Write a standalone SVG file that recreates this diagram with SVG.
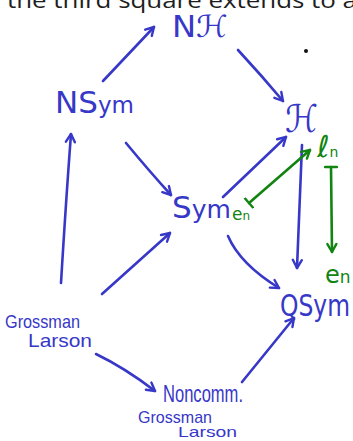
<svg xmlns="http://www.w3.org/2000/svg" width="353" height="441" viewBox="0 0 353 441">
  <style>
    .ink { fill: #3737c8; font-family: "DejaVu Sans", "Noto Sans", sans-serif; }
    .hand { fill: #3737c8; font-family: "Liberation Sans", "Noto Sans", sans-serif; }
    .grn { fill: #128412; font-family: "DejaVu Sans", "Noto Sans", sans-serif; }
    .edge { fill: none; stroke: #3737c8; stroke-width: 2.6; stroke-linecap: round; stroke-linejoin: round; }
    .gedge { fill: none; stroke: #128412; stroke-width: 2.6; stroke-linecap: round; stroke-linejoin: round; }
    .caption { fill: #1e1e1e; font-family: "Open Sans", "Noto Sans", sans-serif; font-size: 22px; }
  </style>
  <defs>
    <marker id="head" viewBox="-1 -1 12 12" refX="9" refY="5" markerWidth="12" markerHeight="12" markerUnits="userSpaceOnUse" orient="auto">
      <path d="M1,0.5 L9,5 L1,9.5" fill="none" stroke="#3737c8" stroke-width="2.4" stroke-linecap="round" stroke-linejoin="round"/>
    </marker>
    <marker id="ghead" viewBox="-1 -1 12 12" refX="9" refY="5" markerWidth="12" markerHeight="12" markerUnits="userSpaceOnUse" orient="auto">
      <path d="M1,0.5 L9,5 L1,9.5" fill="none" stroke="#128412" stroke-width="2.4" stroke-linecap="round" stroke-linejoin="round"/>
    </marker>
    <marker id="gtail" viewBox="-1 -1 4 14" refX="1" refY="6" markerWidth="4" markerHeight="14" markerUnits="userSpaceOnUse" orient="auto">
      <path d="M1,0 L1,12" fill="none" stroke="#128412" stroke-width="2.4" stroke-linecap="round"/>
    </marker>
  </defs>

  <!-- running text cut off at the top edge -->
  <text class="caption" x="7" y="8" textLength="350" lengthAdjust="spacingAndGlyphs">the third square extends to a</text>
  <circle cx="306" cy="51" r="2" fill="#111"/>

  <g id="connectors">
    <path class="edge" d="M103,81 L154,27" marker-end="url(#head)"/>
    <path class="edge" d="M238,50 Q262,76 283,101" marker-end="url(#head)"/>
    <path class="edge" d="M126,143 Q150,172 171,195" marker-end="url(#head)"/>
    <path class="edge" d="M223,197 L286,137" marker-end="url(#head)"/>
    <path class="edge" d="M102,294 L170,233" marker-end="url(#head)"/>
    <path class="edge" d="M61,283 Q66,200 71,134" marker-end="url(#head)"/>
    <path class="edge" d="M302,145 L297,268" marker-end="url(#head)"/>
    <path class="edge" d="M228,236 Q240,264 279,288" marker-end="url(#head)"/>
    <path class="edge" d="M96,354 Q125,368 155,391" marker-end="url(#head)"/>
    <path class="edge" d="M242,382 L294,318" marker-end="url(#head)"/>
    <path class="gedge" d="M249,203 L310,150" marker-start="url(#gtail)" marker-end="url(#ghead)"/>
    <path class="gedge" d="M331,167 L332,252" marker-start="url(#gtail)" marker-end="url(#ghead)"/>
  </g>

  <g id="node-NH">
    <text class="ink" x="172" y="37" font-size="30" textLength="56" lengthAdjust="spacingAndGlyphs">Nℋ</text>
  </g>
  <g id="node-NSym">
    <text class="ink" x="55" y="113" font-size="31">NS<tspan font-size="23">ym</tspan></text>
  </g>
  <g id="node-H">
    <text class="ink" x="285" y="132" font-size="38" textLength="33" lengthAdjust="spacingAndGlyphs">ℋ</text>
  </g>
  <g id="node-ln">
    <text class="grn" x="317" y="157" font-size="30">ℓ<tspan font-size="14">n</tspan></text>
  </g>
  <g id="node-Sym">
    <text class="ink" x="172" y="218" font-size="31">S<tspan font-size="25">ym</tspan></text>
  </g>
  <g id="node-en-left">
    <text class="grn" x="232" y="220" font-size="17">e<tspan font-size="12">n</tspan></text>
  </g>
  <g id="node-en-right">
    <text class="grn" x="325" y="283" font-size="24">e<tspan font-size="17">n</tspan></text>
  </g>
  <g id="node-QSym">
    <text class="ink" x="280" y="316" font-size="31" textLength="70" lengthAdjust="spacingAndGlyphs">QSym</text>
  </g>
  <g id="node-GrossmanLarson">
    <text class="hand" x="5" y="328" font-size="19" textLength="75" lengthAdjust="spacingAndGlyphs">Grossman</text>
    <text class="hand" x="28" y="347" font-size="19" textLength="64" lengthAdjust="spacingAndGlyphs">Larson</text>
  </g>
  <g id="node-NoncommGL">
    <text class="hand" x="163" y="402" font-size="24" textLength="80" lengthAdjust="spacingAndGlyphs">Noncomm.</text>
    <text class="hand" x="138" y="423" font-size="17" textLength="74" lengthAdjust="spacingAndGlyphs">Grossman</text>
    <text class="hand" x="178" y="437" font-size="15" textLength="59" lengthAdjust="spacingAndGlyphs">Larson</text>
  </g>
</svg>
